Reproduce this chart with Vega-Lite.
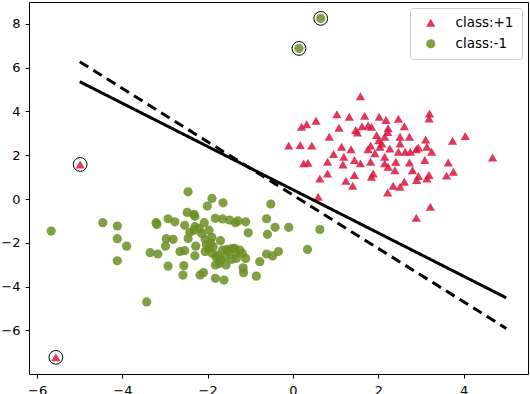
{
  "$schema": "https://vega.github.io/schema/vega-lite/v6.json",
  "width": 499,
  "height": 372,
  "autosize": {"type": "none"},
  "padding": {"left": 29, "top": 2, "right": 2, "bottom": 20},
  "background": "white",
  "config": {
    "view": {"stroke": "black", "strokeWidth": 1},
    "axis": {"grid": false, "domain": false, "tickColor": "black", "labelColor": "black", "labelFont": "DejaVu Sans", "labelFontSize": 13, "tickSize": 4, "tickWidth": 1, "title": null},
    "axisX": {"labelPadding": 6},
    "axisY": {"labelPadding": 5},
    "legend": {"orient": "top-right", "offset": 6, "strokeColor": "#cccccc", "fillColor": "white", "cornerRadius": 3, "padding": 8, "labelFont": "DejaVu Sans", "labelFontSize": 13.5, "labelColor": "black", "labelOffset": 18, "symbolOffset": 6, "symbolSize": 85, "symbolStrokeWidth": 0, "symbolOpacity": 0.85, "rowPadding": 6}
  },
  "datasets": {
    "pts": [
      {"x": 1.58, "y": 4.70, "class": "class:+1", "sv": false},
      {"x": 1.03, "y": 3.87, "class": "class:+1", "sv": false},
      {"x": 1.32, "y": 3.76, "class": "class:+1", "sv": false},
      {"x": 1.68, "y": 3.80, "class": "class:+1", "sv": false},
      {"x": 2.02, "y": 3.76, "class": "class:+1", "sv": false},
      {"x": 2.18, "y": 3.61, "class": "class:+1", "sv": false},
      {"x": 2.47, "y": 3.67, "class": "class:+1", "sv": false},
      {"x": 3.20, "y": 3.91, "class": "class:+1", "sv": false},
      {"x": 3.19, "y": 3.68, "class": "class:+1", "sv": false},
      {"x": 0.20, "y": 3.30, "class": "class:+1", "sv": false},
      {"x": 0.32, "y": 3.42, "class": "class:+1", "sv": false},
      {"x": 0.54, "y": 3.58, "class": "class:+1", "sv": false},
      {"x": 1.08, "y": 3.26, "class": "class:+1", "sv": false},
      {"x": 1.47, "y": 3.15, "class": "class:+1", "sv": false},
      {"x": 1.51, "y": 3.04, "class": "class:+1", "sv": false},
      {"x": 1.62, "y": 3.33, "class": "class:+1", "sv": false},
      {"x": 1.76, "y": 3.36, "class": "class:+1", "sv": false},
      {"x": 1.84, "y": 3.30, "class": "class:+1", "sv": false},
      {"x": 2.61, "y": 3.33, "class": "class:+1", "sv": false},
      {"x": 2.23, "y": 3.23, "class": "class:+1", "sv": false},
      {"x": 0.85, "y": 2.85, "class": "class:+1", "sv": false},
      {"x": 1.96, "y": 2.92, "class": "class:+1", "sv": false},
      {"x": 2.15, "y": 2.85, "class": "class:+1", "sv": false},
      {"x": 2.51, "y": 2.85, "class": "class:+1", "sv": false},
      {"x": 2.73, "y": 2.85, "class": "class:+1", "sv": false},
      {"x": 3.11, "y": 2.72, "class": "class:+1", "sv": false},
      {"x": 3.74, "y": 2.66, "class": "class:+1", "sv": false},
      {"x": 4.04, "y": 2.88, "class": "class:+1", "sv": false},
      {"x": -0.10, "y": 2.44, "class": "class:+1", "sv": false},
      {"x": 0.17, "y": 2.47, "class": "class:+1", "sv": false},
      {"x": 0.44, "y": 2.44, "class": "class:+1", "sv": false},
      {"x": 1.14, "y": 2.39, "class": "class:+1", "sv": false},
      {"x": 1.36, "y": 2.28, "class": "class:+1", "sv": false},
      {"x": 1.82, "y": 2.44, "class": "class:+1", "sv": false},
      {"x": 2.04, "y": 2.39, "class": "class:+1", "sv": false},
      {"x": 2.27, "y": 2.31, "class": "class:+1", "sv": false},
      {"x": 2.51, "y": 2.54, "class": "class:+1", "sv": false},
      {"x": 2.94, "y": 2.36, "class": "class:+1", "sv": false},
      {"x": 3.14, "y": 2.39, "class": "class:+1", "sv": false},
      {"x": 3.25, "y": 2.16, "class": "class:+1", "sv": false},
      {"x": 4.68, "y": 1.90, "class": "class:+1", "sv": false},
      {"x": 0.95, "y": 2.06, "class": "class:+1", "sv": false},
      {"x": 1.19, "y": 1.93, "class": "class:+1", "sv": false},
      {"x": 1.92, "y": 2.09, "class": "class:+1", "sv": false},
      {"x": 2.15, "y": 1.93, "class": "class:+1", "sv": false},
      {"x": 2.47, "y": 2.16, "class": "class:+1", "sv": false},
      {"x": 2.63, "y": 2.16, "class": "class:+1", "sv": false},
      {"x": 2.75, "y": 2.16, "class": "class:+1", "sv": false},
      {"x": 2.89, "y": 2.27, "class": "class:+1", "sv": false},
      {"x": 3.09, "y": 1.78, "class": "class:+1", "sv": false},
      {"x": 0.81, "y": 1.70, "class": "class:+1", "sv": false},
      {"x": 1.17, "y": 1.58, "class": "class:+1", "sv": false},
      {"x": 1.44, "y": 1.78, "class": "class:+1", "sv": false},
      {"x": 1.58, "y": 1.63, "class": "class:+1", "sv": false},
      {"x": 1.82, "y": 1.70, "class": "class:+1", "sv": false},
      {"x": 2.15, "y": 1.63, "class": "class:+1", "sv": false},
      {"x": 2.41, "y": 1.70, "class": "class:+1", "sv": false},
      {"x": 2.73, "y": 1.67, "class": "class:+1", "sv": false},
      {"x": 3.64, "y": 1.67, "class": "class:+1", "sv": false},
      {"x": 0.25, "y": 1.63, "class": "class:+1", "sv": false},
      {"x": 0.35, "y": 1.66, "class": "class:+1", "sv": false},
      {"x": 2.23, "y": 1.48, "class": "class:+1", "sv": false},
      {"x": 2.39, "y": 1.32, "class": "class:+1", "sv": false},
      {"x": 2.80, "y": 1.32, "class": "class:+1", "sv": false},
      {"x": 3.76, "y": 1.25, "class": "class:+1", "sv": false},
      {"x": 0.81, "y": 1.17, "class": "class:+1", "sv": false},
      {"x": 1.88, "y": 1.17, "class": "class:+1", "sv": false},
      {"x": 1.44, "y": 1.10, "class": "class:+1", "sv": false},
      {"x": 1.84, "y": 1.02, "class": "class:+1", "sv": false},
      {"x": 2.94, "y": 1.05, "class": "class:+1", "sv": false},
      {"x": 3.19, "y": 1.10, "class": "class:+1", "sv": false},
      {"x": 3.60, "y": 1.07, "class": "class:+1", "sv": false},
      {"x": 0.63, "y": 0.94, "class": "class:+1", "sv": false},
      {"x": 1.24, "y": 0.84, "class": "class:+1", "sv": false},
      {"x": 1.40, "y": 0.61, "class": "class:+1", "sv": false},
      {"x": 2.35, "y": 0.61, "class": "class:+1", "sv": false},
      {"x": 2.51, "y": 0.56, "class": "class:+1", "sv": false},
      {"x": 2.61, "y": 0.79, "class": "class:+1", "sv": false},
      {"x": 2.90, "y": 0.87, "class": "class:+1", "sv": false},
      {"x": 2.22, "y": 0.30, "class": "class:+1", "sv": false},
      {"x": 0.59, "y": 0.11, "class": "class:+1", "sv": false},
      {"x": 3.22, "y": -0.35, "class": "class:+1", "sv": false},
      {"x": 2.89, "y": -0.85, "class": "class:+1", "sv": false},
      {"x": 3.14, "y": 0.94, "class": "class:+1", "sv": false},
      {"x": 2.08, "y": 2.54, "class": "class:+1", "sv": false},
      {"x": 1.76, "y": 2.28, "class": "class:+1", "sv": false},
      {"x": 2.01, "y": 2.69, "class": "class:+1", "sv": false},
      {"x": 2.22, "y": 3.06, "class": "class:+1", "sv": false},
      {"x": -4.99, "y": 1.58, "class": "class:+1", "sv": true},
      {"x": -5.56, "y": -7.23, "class": "class:+1", "sv": true},
      {"x": -5.67, "y": -1.46, "class": "class:-1", "sv": false},
      {"x": -4.46, "y": -1.08, "class": "class:-1", "sv": false},
      {"x": -4.12, "y": -1.23, "class": "class:-1", "sv": false},
      {"x": -4.12, "y": -1.81, "class": "class:-1", "sv": false},
      {"x": -3.90, "y": -2.15, "class": "class:-1", "sv": false},
      {"x": -4.12, "y": -2.82, "class": "class:-1", "sv": false},
      {"x": -3.43, "y": -4.70, "class": "class:-1", "sv": false},
      {"x": -3.21, "y": -1.08, "class": "class:-1", "sv": false},
      {"x": -3.19, "y": -1.16, "class": "class:-1", "sv": false},
      {"x": -2.93, "y": -0.90, "class": "class:-1", "sv": false},
      {"x": -2.77, "y": -1.04, "class": "class:-1", "sv": false},
      {"x": -2.54, "y": -1.20, "class": "class:-1", "sv": false},
      {"x": -2.46, "y": 0.33, "class": "class:-1", "sv": false},
      {"x": -2.48, "y": -0.61, "class": "class:-1", "sv": false},
      {"x": -2.32, "y": -0.70, "class": "class:-1", "sv": false},
      {"x": -2.30, "y": -0.78, "class": "class:-1", "sv": false},
      {"x": -1.90, "y": 0.03, "class": "class:-1", "sv": false},
      {"x": -2.01, "y": -0.32, "class": "class:-1", "sv": false},
      {"x": -1.64, "y": -0.17, "class": "class:-1", "sv": false},
      {"x": -1.82, "y": -0.88, "class": "class:-1", "sv": false},
      {"x": -2.08, "y": -1.08, "class": "class:-1", "sv": false},
      {"x": -2.30, "y": -1.26, "class": "class:-1", "sv": false},
      {"x": -1.65, "y": -0.91, "class": "class:-1", "sv": false},
      {"x": -1.49, "y": -0.96, "class": "class:-1", "sv": false},
      {"x": -1.35, "y": -1.08, "class": "class:-1", "sv": false},
      {"x": -1.29, "y": -1.00, "class": "class:-1", "sv": false},
      {"x": -1.11, "y": -1.04, "class": "class:-1", "sv": false},
      {"x": -0.62, "y": -0.90, "class": "class:-1", "sv": false},
      {"x": -0.52, "y": -0.23, "class": "class:-1", "sv": false},
      {"x": -0.42, "y": -1.29, "class": "class:-1", "sv": false},
      {"x": -0.10, "y": -1.29, "class": "class:-1", "sv": false},
      {"x": 0.63, "y": -1.39, "class": "class:-1", "sv": false},
      {"x": -1.05, "y": -1.54, "class": "class:-1", "sv": false},
      {"x": -0.60, "y": -1.61, "class": "class:-1", "sv": false},
      {"x": -2.97, "y": -1.81, "class": "class:-1", "sv": false},
      {"x": -2.81, "y": -1.84, "class": "class:-1", "sv": false},
      {"x": -2.99, "y": -2.15, "class": "class:-1", "sv": false},
      {"x": -3.35, "y": -2.45, "class": "class:-1", "sv": false},
      {"x": -3.17, "y": -2.51, "class": "class:-1", "sv": false},
      {"x": -2.65, "y": -2.40, "class": "class:-1", "sv": false},
      {"x": -2.54, "y": -2.36, "class": "class:-1", "sv": false},
      {"x": -2.46, "y": -1.80, "class": "class:-1", "sv": false},
      {"x": -2.42, "y": -1.52, "class": "class:-1", "sv": false},
      {"x": -2.28, "y": -2.15, "class": "class:-1", "sv": false},
      {"x": -2.14, "y": -1.57, "class": "class:-1", "sv": false},
      {"x": -2.06, "y": -1.84, "class": "class:-1", "sv": false},
      {"x": -1.90, "y": -1.75, "class": "class:-1", "sv": false},
      {"x": -1.70, "y": -1.90, "class": "class:-1", "sv": false},
      {"x": -1.98, "y": -2.25, "class": "class:-1", "sv": false},
      {"x": -2.06, "y": -2.40, "class": "class:-1", "sv": false},
      {"x": -1.90, "y": -2.48, "class": "class:-1", "sv": false},
      {"x": -1.81, "y": -2.63, "class": "class:-1", "sv": false},
      {"x": -1.65, "y": -2.33, "class": "class:-1", "sv": false},
      {"x": -1.51, "y": -2.40, "class": "class:-1", "sv": false},
      {"x": -1.37, "y": -2.25, "class": "class:-1", "sv": false},
      {"x": -1.35, "y": -2.48, "class": "class:-1", "sv": false},
      {"x": -1.19, "y": -2.48, "class": "class:-1", "sv": false},
      {"x": -1.11, "y": -2.71, "class": "class:-1", "sv": false},
      {"x": -1.43, "y": -2.75, "class": "class:-1", "sv": false},
      {"x": -1.58, "y": -2.63, "class": "class:-1", "sv": false},
      {"x": -1.73, "y": -2.94, "class": "class:-1", "sv": false},
      {"x": -1.82, "y": -3.01, "class": "class:-1", "sv": false},
      {"x": -1.57, "y": -3.01, "class": "class:-1", "sv": false},
      {"x": -2.30, "y": -2.59, "class": "class:-1", "sv": false},
      {"x": -2.93, "y": -3.06, "class": "class:-1", "sv": false},
      {"x": -2.56, "y": -3.04, "class": "class:-1", "sv": false},
      {"x": -2.58, "y": -3.47, "class": "class:-1", "sv": false},
      {"x": -2.18, "y": -3.47, "class": "class:-1", "sv": false},
      {"x": -2.10, "y": -3.36, "class": "class:-1", "sv": false},
      {"x": -1.82, "y": -3.62, "class": "class:-1", "sv": false},
      {"x": -1.62, "y": -3.70, "class": "class:-1", "sv": false},
      {"x": -1.17, "y": -3.14, "class": "class:-1", "sv": false},
      {"x": -1.16, "y": -3.36, "class": "class:-1", "sv": false},
      {"x": -0.86, "y": -3.52, "class": "class:-1", "sv": false},
      {"x": -0.78, "y": -2.86, "class": "class:-1", "sv": false},
      {"x": -0.62, "y": -2.51, "class": "class:-1", "sv": false},
      {"x": -0.48, "y": -2.60, "class": "class:-1", "sv": false},
      {"x": -0.34, "y": -2.40, "class": "class:-1", "sv": false},
      {"x": 0.34, "y": -2.30, "class": "class:-1", "sv": false},
      {"x": -2.32, "y": -1.42, "class": "class:-1", "sv": false},
      {"x": -2.20, "y": -1.34, "class": "class:-1", "sv": false},
      {"x": -1.93, "y": -2.02, "class": "class:-1", "sv": false},
      {"x": -1.87, "y": -2.18, "class": "class:-1", "sv": false},
      {"x": -1.77, "y": -2.56, "class": "class:-1", "sv": false},
      {"x": -1.33, "y": -2.71, "class": "class:-1", "sv": false},
      {"x": -1.69, "y": -2.79, "class": "class:-1", "sv": false},
      {"x": -1.25, "y": -2.33, "class": "class:-1", "sv": false},
      {"x": -1.97, "y": -1.42, "class": "class:-1", "sv": false},
      {"x": -2.03, "y": -2.10, "class": "class:-1", "sv": false},
      {"x": -1.43, "y": -2.25, "class": "class:-1", "sv": false},
      {"x": -1.55, "y": -2.30, "class": "class:-1", "sv": false},
      {"x": 0.14, "y": 6.88, "class": "class:-1", "sv": true},
      {"x": 0.65, "y": 8.25, "class": "class:-1", "sv": true}
    ],
    "lines": [
      {"line": "solid", "x": -5, "y": 5.36},
      {"line": "solid", "x": 5, "y": -4.51},
      {"line": "dashed", "x": -5, "y": 6.27},
      {"line": "dashed", "x": 5, "y": -5.91}
    ]
  },
  "layer": [
    {
      "data": {"name": "pts"},
      "mark": {"type": "point", "filled": true, "opacity": 0.85, "size": 85, "strokeWidth": 0},
      "encoding": {
        "x": {"field": "x", "type": "quantitative", "scale": {"domain": [-6.19, 5.51], "nice": false, "zero": false}, "axis": {"values": [-6, -4, -2, 0, 2, 4]}},
        "y": {"field": "y", "type": "quantitative", "scale": {"domain": [-7.99, 9.0], "nice": false, "zero": false}, "axis": {"values": [-6, -4, -2, 0, 2, 4, 6, 8]}},
        "shape": {"field": "class", "type": "nominal", "scale": {"domain": ["class:+1", "class:-1"], "range": ["triangle-up", "circle"]}, "legend": {"title": null}},
        "color": {"field": "class", "type": "nominal", "scale": {"domain": ["class:+1", "class:-1"], "range": ["#dc143c", "#6b8e23"]}, "legend": {"title": null}}
      }
    },
    {
      "data": {"name": "pts"},
      "transform": [{"filter": "datum.sv"}],
      "mark": {"type": "point", "filled": false, "size": 190, "stroke": "black", "strokeWidth": 1, "opacity": 1},
      "encoding": {
        "x": {"field": "x", "type": "quantitative"},
        "y": {"field": "y", "type": "quantitative"}
      }
    },
    {
      "data": {"name": "lines"},
      "mark": {"type": "line", "color": "black", "strokeWidth": 3},
      "encoding": {
        "x": {"field": "x", "type": "quantitative"},
        "y": {"field": "y", "type": "quantitative"},
        "detail": {"field": "line", "type": "nominal"},
        "strokeDash": {"field": "line", "type": "nominal", "scale": {"domain": ["solid", "dashed"], "range": [[1, 0], [10, 6]]}, "legend": null}
      }
    }
  ],
  "resolve": {"scale": {"strokeDash": "independent"}}
}
